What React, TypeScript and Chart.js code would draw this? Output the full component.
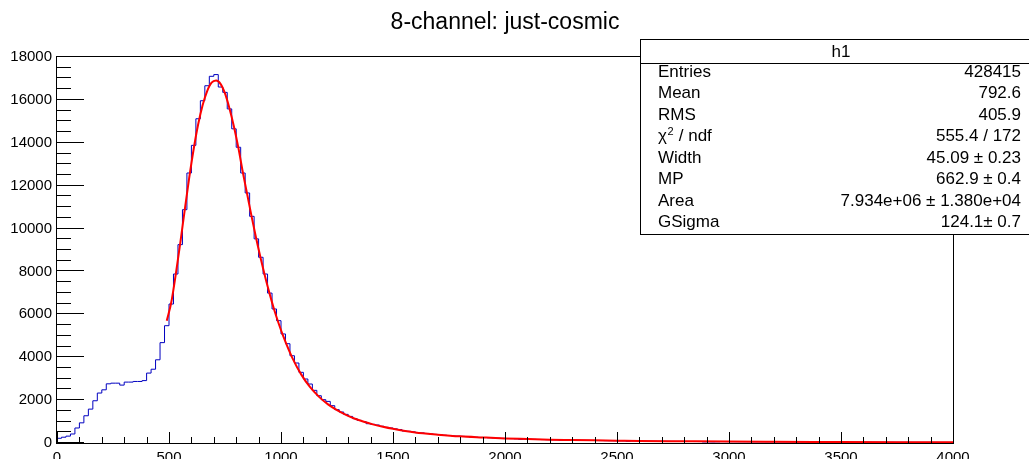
import React, { useEffect, useRef } from "react";
import { Chart, registerables } from "chart.js";

Chart.register(...registerables);

// ---------------- data ----------------
const chartTitle = "8-channel: just-cosmic";
const xMin = 0;
const xMax = 4000;
const binWidth = 20;
const yMin = 0;
const yMax = 18000;
const xStep = 500;
const yStep = 2000;

// histogram bin contents, bins of 20 from 0 to 4000
const binValues = [
  // 0 - 500
  220, 270, 320, 420, 700, 940, 1270, 1580, 1970, 2330,
  2480, 2760, 2790, 2790, 2700, 2840, 2840, 2870, 2870, 2910,
  3260, 3440, 3880, 4680, 5470,
  // 500 - 1000
  6480, 7880, 9250, 10880, 12590, 13880, 15120, 15960, 16660, 17100,
  17180, 16600, 16350, 15580, 14650, 13790, 12590, 11660, 10570, 9520,
  8660, 7880, 6990, 6250, 5705,
  // 1000 - 1500
  5085, 4630, 4070, 3730, 3295, 2985, 2750, 2455, 2205, 2020,
  1940, 1740, 1555, 1445, 1335, 1240, 1135, 1055, 1000, 900,
  870, 840, 780, 730, 700,
  // 1500 - 2000
  660, 630, 560, 545, 520, 480, 470, 445, 420, 400,
  395, 360, 350, 330, 320, 310, 300, 275, 270, 260,
  255, 245, 235, 225, 215,
  // 2000 - 2500
  210, 205, 195, 170, 180, 175, 170, 165, 160, 155,
  150, 148, 125, 140, 135, 132, 128, 125, 122, 118,
  115, 112, 108, 105, 103,
  // 2500 - 3000
  100, 98, 80, 95, 92, 90, 88, 86, 84, 82,
  80, 78, 76, 75, 73, 72, 70, 68, 67, 50,
  52, 50, 55, 64, 62,
  // 3000 - 3500
  61, 60, 59, 58, 57, 56, 55, 54, 53, 52,
  52, 51, 50, 49, 49, 48, 47, 46, 46, 45,
  44, 44, 43, 42, 42,
  // 3500 - 4000
  41, 40, 40, 39, 39, 38, 38, 37, 36, 36,
  35, 35, 34, 34, 33, 33, 32, 32, 31, 31,
  30, 30, 29, 29, 28,
];

// fitted curve
const fitX = [
  490, 510, 530, 550, 570, 590, 610, 630, 650, 670, 690, 710, 730, 750, 770,
  790, 810, 830, 850, 870, 890, 910, 930, 950, 970, 990, 1010, 1050, 1090,
  1130, 1170, 1210, 1250, 1290, 1330, 1370, 1410, 1450, 1500, 1600, 1700,
  1800, 1900, 2000, 2100, 2200, 2300, 2400, 2500, 2600, 2800, 3000, 3200,
  3500, 3800, 4000,
];
const fitY = [
  5700, 6550, 7850, 9300, 10850, 12350, 13700, 14850, 15750, 16400, 16800,
  16900, 16750, 16300, 15600, 14750, 13750, 12600, 11550, 10500, 9500, 8580,
  7720, 6930, 6200, 5560, 4980, 3980, 3200, 2600, 2150, 1800, 1530, 1310,
  1130, 990, 870, 770, 660, 490, 390, 310, 260, 215, 185, 155, 140, 125, 110,
  95, 80, 65, 55, 45, 35, 30,
];

const statsName = "h1";
const statsLabels = ["Entries", "Mean", "RMS", "χ2 / ndf", "Width", "MP", "Area", "GSigma"];
const statsValues = [
  "428415",
  "792.6",
  "405.9",
  "555.4 / 172",
  "45.09 ± 0.23",
  "662.9 ± 0.4",
  "7.934e+06 ± 1.380e+04",
  "124.1± 0.7",
];

// ---------------- styling ----------------
const FONT = "'Liberation Sans', Arial, Helvetica, sans-serif";
const W = 1029;
const H = 459;

const rootPlugin = {
  id: "rootStyle",
  afterDatasetsDraw(chart: any) {
    const { ctx, chartArea: a, scales } = chart;
    const xs = scales.x;
    const ys = scales.y;
    ctx.save();
    ctx.strokeStyle = "#000";
    ctx.lineWidth = 1;
    // frame
    ctx.strokeRect(a.left - 0.5, a.top - 0.5, a.right - a.left + 1, a.bottom - a.top + 1);
    ctx.beginPath();
    // x ticks (inside)
    for (let v = xMin; v <= xMax; v += 100) {
      const px = Math.round(xs.getPixelForValue(v)) + 0.5;
      const len = v % xStep === 0 ? 11 : 6;
      ctx.moveTo(px, a.bottom);
      ctx.lineTo(px, a.bottom - len);
    }
    // y ticks (inside)
    for (let v = yMin; v <= yMax; v += 500) {
      const py = Math.round(ys.getPixelForValue(v)) - 0.5;
      const len = v % yStep === 0 ? 27 : 14;
      ctx.moveTo(a.left, py);
      ctx.lineTo(a.left + len, py);
    }
    ctx.stroke();
    ctx.restore();
  },
  afterDraw(chart: any) {
    const { ctx } = chart;
    ctx.save();
    // title
    ctx.fillStyle = "#000";
    ctx.font = `23px ${FONT}`;
    ctx.textAlign = "center";
    ctx.textBaseline = "middle";
    ctx.fillText(chartTitle, 505, 23);

    // stats box
    const bx = 640.5;
    const by = 39.5;
    const bw = 410;
    const bh = 195;
    ctx.fillStyle = "#fff";
    ctx.fillRect(bx, by, bw, bh);
    ctx.strokeStyle = "#000";
    ctx.lineWidth = 1;
    ctx.strokeRect(bx, by, bw, bh);
    ctx.beginPath();
    ctx.moveTo(bx, 63.5);
    ctx.lineTo(bx + bw, 63.5);
    ctx.stroke();

    ctx.fillStyle = "#000";
    ctx.font = `17px ${FONT}`;
    ctx.textBaseline = "middle";
    ctx.textAlign = "center";
    ctx.fillText(statsName, 841, 52);

    const rowY0 = 72;
    const rowDy = 21.5;
    statsLabels.forEach((lab, i) => {
      const yy = rowY0 + i * rowDy;
      ctx.textAlign = "left";
      if (lab.startsWith("χ2")) {
        ctx.font = `17px ${FONT}`;
        ctx.fillText("χ", 658, yy);
        const w = ctx.measureText("χ").width;
        ctx.font = `11px ${FONT}`;
        ctx.fillText("2", 658 + w + 0.5, yy - 5);
        const w2 = ctx.measureText("2").width;
        ctx.font = `17px ${FONT}`;
        ctx.fillText(lab.slice(2), 658 + w + w2 + 1, yy);
      } else {
        ctx.font = `17px ${FONT}`;
        ctx.fillText(lab, 658, yy);
      }
      ctx.textAlign = "right";
      ctx.font = `17px ${FONT}`;
      ctx.fillText(statsValues[i], 1021, yy);
    });
    ctx.restore();
  },
};

export default function App() {
  const canvasRef = useRef<HTMLCanvasElement | null>(null);

  useEffect(() => {
    const canvas = canvasRef.current;
    if (!canvas) return;

    const histPoints = binValues.map((v, i) => ({ x: xMin + i * binWidth, y: v }));
    histPoints.push({ x: xMax, y: binValues[binValues.length - 1] });
    const fitPoints = fitX.map((xv, i) => ({ x: xv, y: fitY[i] }));

    const chart = new Chart(canvas, {
      type: "line",
      data: {
        datasets: [
          {
            label: "fit",
            data: fitPoints,
            borderColor: "#ff0000",
            borderWidth: 2,
            pointRadius: 0,
            fill: false,
            cubicInterpolationMode: "monotone",
            order: 1,
          },
          {
            label: statsName,
            data: histPoints,
            borderColor: "#0000c0",
            borderWidth: 1,
            pointRadius: 0,
            fill: false,
            stepped: "before",
            order: 2,
          },
        ],
      },
      options: {
        animation: false,
        responsive: false,
        devicePixelRatio: 1,
        layout: { padding: { top: 57, right: 76, left: 0, bottom: 0 } },
        plugins: {
          legend: { display: false },
          tooltip: { enabled: false },
          title: { display: false },
        },
        scales: {
          x: {
            type: "linear",
            min: xMin,
            max: xMax,
            grid: { display: false, drawTicks: false },
            border: { display: false },
            ticks: {
              stepSize: xStep,
              autoSkip: false,
              maxRotation: 0,
              padding: 6,
              color: "#000",
              font: { family: FONT, size: 15 },
              callback: (v: any) => String(v),
            },
            afterFit: (s: any) => {
              s.height = 16;
            },
          },
          y: {
            type: "linear",
            min: yMin,
            max: yMax,
            grid: { display: false, drawTicks: false },
            border: { display: false },
            ticks: {
              stepSize: yStep,
              autoSkip: false,
              padding: 5,
              color: "#000",
              font: { family: FONT, size: 15 },
              callback: (v: any) => String(v),
            },
            afterFit: (s: any) => {
              s.width = 57;
            },
          },
        },
      },
      plugins: [rootPlugin],
    } as any);

    return () => chart.destroy();
  }, []);

  return (
    <div style={{ position: "absolute", left: 0, top: 0, width: W, height: H, background: "#fff" }}>
      <canvas ref={canvasRef} width={W} height={H} style={{ display: "block" }} />
    </div>
  );
}
